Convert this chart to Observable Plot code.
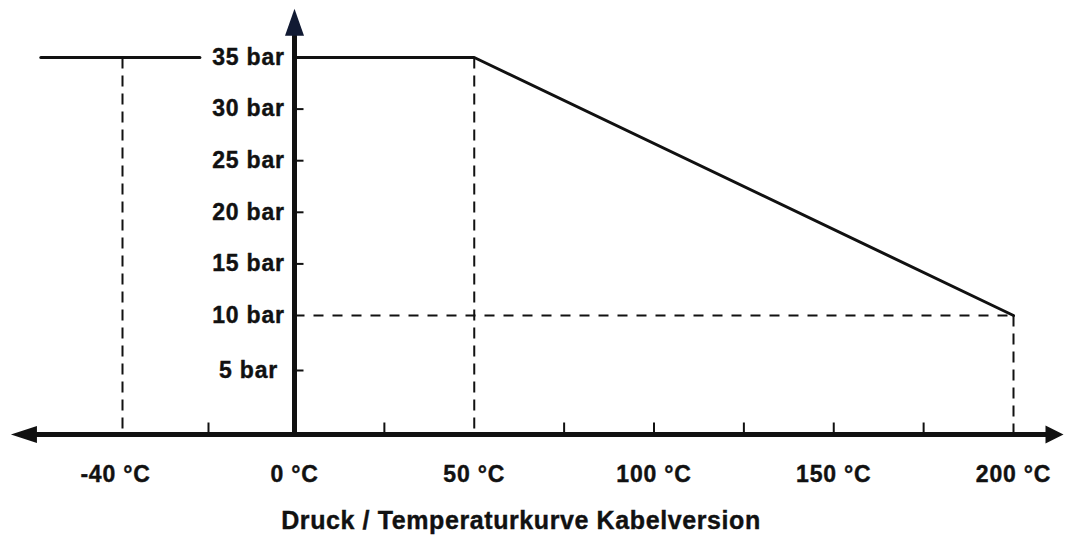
<!DOCTYPE html>
<html>
<head>
<meta charset="utf-8">
<script src="https://cdn.jsdelivr.net/npm/d3@7"></script>
<script src="https://cdn.jsdelivr.net/npm/@observablehq/plot@0.6"></script>
<style>
  html, body { margin: 0; padding: 0; background: #fff; }
  #wrap { position: relative; width: 1065px; height: 536px; overflow: hidden; }
  #caption {
    position: absolute; left: 0; width: 1042px; top: 508px;
    text-align: center; font: bold 25px "Liberation Sans", Arial, sans-serif;
    line-height: 25px; letter-spacing: 0.6px; color: #111; white-space: nowrap;
    -webkit-text-stroke: 0.4px #111;
  }
</style>
</head>
<body>
<div id="wrap"><div id="chart"></div><div id="caption">Druck / Temperaturkurve Kabelversion</div></div>
<script>
// ---- data ----
const curveTemps = [0, 50, 200];          // °C
const curvePressures = [35, 35, 10];      // bar
const leftTemps = [-59, -22];             // short line left of the 35 bar label
const leftPressures = [35, 35];
const dashTemps = [-40, 50, 200];         // vertical dashed guides
const dashPressures = [35, 35, 10];
const hDashTemps = [0, 200];              // horizontal dashed guide at 10 bar
const hDashPressure = 10;
const xTickValues = [-40, 0, 50, 100, 150, 200];
const xTickLabels = ["-40 °C", "0 °C", "50 °C", "100 °C", "150 °C", "200 °C"];
const xMinorTicks = [-20, 25, 75, 100, 125, 150, 175];
const yTickValues = [5, 10, 15, 20, 25, 30, 35];
const yTickLabels = ["5 bar", "10 bar", "15 bar", "20 bar", "25 bar", "30 bar", "35 bar"];
const yMinorTicks = [5, 15, 20, 25, 30];
const xAxisExtent = [-59.9, 208.9];
const yAxisTop = 37.1;

// ---- derived tables ----
const curve = curveTemps.map((t, i) => ({t, p: curvePressures[i]}));
const leftLine = leftTemps.map((t, i) => ({t, p: leftPressures[i]}));
const vDash = dashTemps.map((t, i) => ({t, p: dashPressures[i]}));
const xLabels = xTickValues.map((v, i) => ({v, label: xTickLabels[i]}));
const yLabels = yTickValues.map((v, i) => ({v, label: yTickLabels[i]}));
const xAxisLine = xAxisExtent.map(t => ({t, p: 0}));
const yAxisLine = [{t: 0, p: 0}, {t: 0, p: yAxisTop}];

// custom symbols (pixel geometry)
const upArrow = {draw(c) { c.moveTo(0, -27); c.lineTo(9.5, 0); c.lineTo(-9.5, 0); c.closePath(); }};
const leftArrow = {draw(c) { c.moveTo(-26, 0); c.lineTo(0, -8.5); c.lineTo(0, 8.5); c.closePath(); }};
const rightArrow = {draw(c) { c.moveTo(18, 0); c.lineTo(0, -9); c.lineTo(0, 9); c.closePath(); }};
const vTick = {draw(c) { c.moveTo(0, 0); c.lineTo(0, -12); }};
const hTick = {draw(c) { c.moveTo(0, 0); c.lineTo(9, 0); }};

const font = {fontFamily: "'Liberation Sans', Arial, sans-serif", fontWeight: "bold", fill: "#111", stroke: "#111", strokeWidth: 0.4};

const chart = Plot.plot({
  width: 1065,
  height: 500,
  margin: 0,
  style: {background: "#fff", overflow: "visible", letterSpacing: "0.8px"},
  x: {type: "linear", domain: [-40, 0, 200], range: [122, 294, 1013], axis: null},
  y: {type: "linear", domain: [0, 5, 10, 35], range: [434, 370, 315, 57], axis: null},
  marks: [
    // dashed guides
    Plot.link(vDash, {x1: "t", x2: "t", y1: "p", y2: () => 0, stroke: "#111", strokeWidth: 2, strokeDasharray: "11,7"}),
    Plot.link([hDashTemps], {x1: d => d[0], x2: d => d[1], y1: () => hDashPressure, y2: () => hDashPressure, stroke: "#111", strokeWidth: 2, strokeDasharray: "10,9"}),
    // curve
    Plot.line(leftLine, {x: "t", y: "p", stroke: "#111", strokeWidth: 3}),
    Plot.line(curve, {x: "t", y: "p", stroke: "#111", strokeWidth: 3, strokeLinejoin: "round"}),
    // axes
    Plot.line(xAxisLine, {x: "t", y: "p", stroke: "#111", strokeWidth: 5}),
    Plot.line(yAxisLine, {x: "t", y: "p", stroke: "#111", strokeWidth: 5}),
    Plot.dot([xAxisLine[0]], {x: "t", y: "p", symbol: leftArrow, fill: "#111", stroke: "none"}),
    Plot.dot([xAxisLine[1]], {x: "t", y: "p", symbol: rightArrow, fill: "#111", stroke: "none"}),
    Plot.dot([yAxisLine[1]], {x: "t", y: "p", symbol: upArrow, fill: "#111a33", stroke: "none"}),
    // ticks
    Plot.dot(xMinorTicks, {x: d => d, y: () => 0, symbol: vTick, fill: "none", stroke: "#111", strokeWidth: 2}),
    Plot.dot(yMinorTicks, {x: () => 0, y: d => d, symbol: hTick, fill: "none", stroke: "#111", strokeWidth: 2}),
    // labels
    Plot.text(xLabels, {x: "v", y: () => 0, text: "label", dy: 40, dx: 0, textAnchor: "middle", lineAnchor: "middle", fontSize: 23, ...font}),
    Plot.text(yLabels, {x: () => 0, y: "v", text: "label", dx: -46, textAnchor: "middle", lineAnchor: "middle", fontSize: 23, ...font})
  ]
});
document.getElementById("chart").appendChild(chart);
// nudge the -40 °C label slightly left, as in the original drawing
d3.select(chart).selectAll("text").filter(function() { return this.textContent === xTickLabels[0]; }).attr("dx", -7);
</script>
</body>
</html>
